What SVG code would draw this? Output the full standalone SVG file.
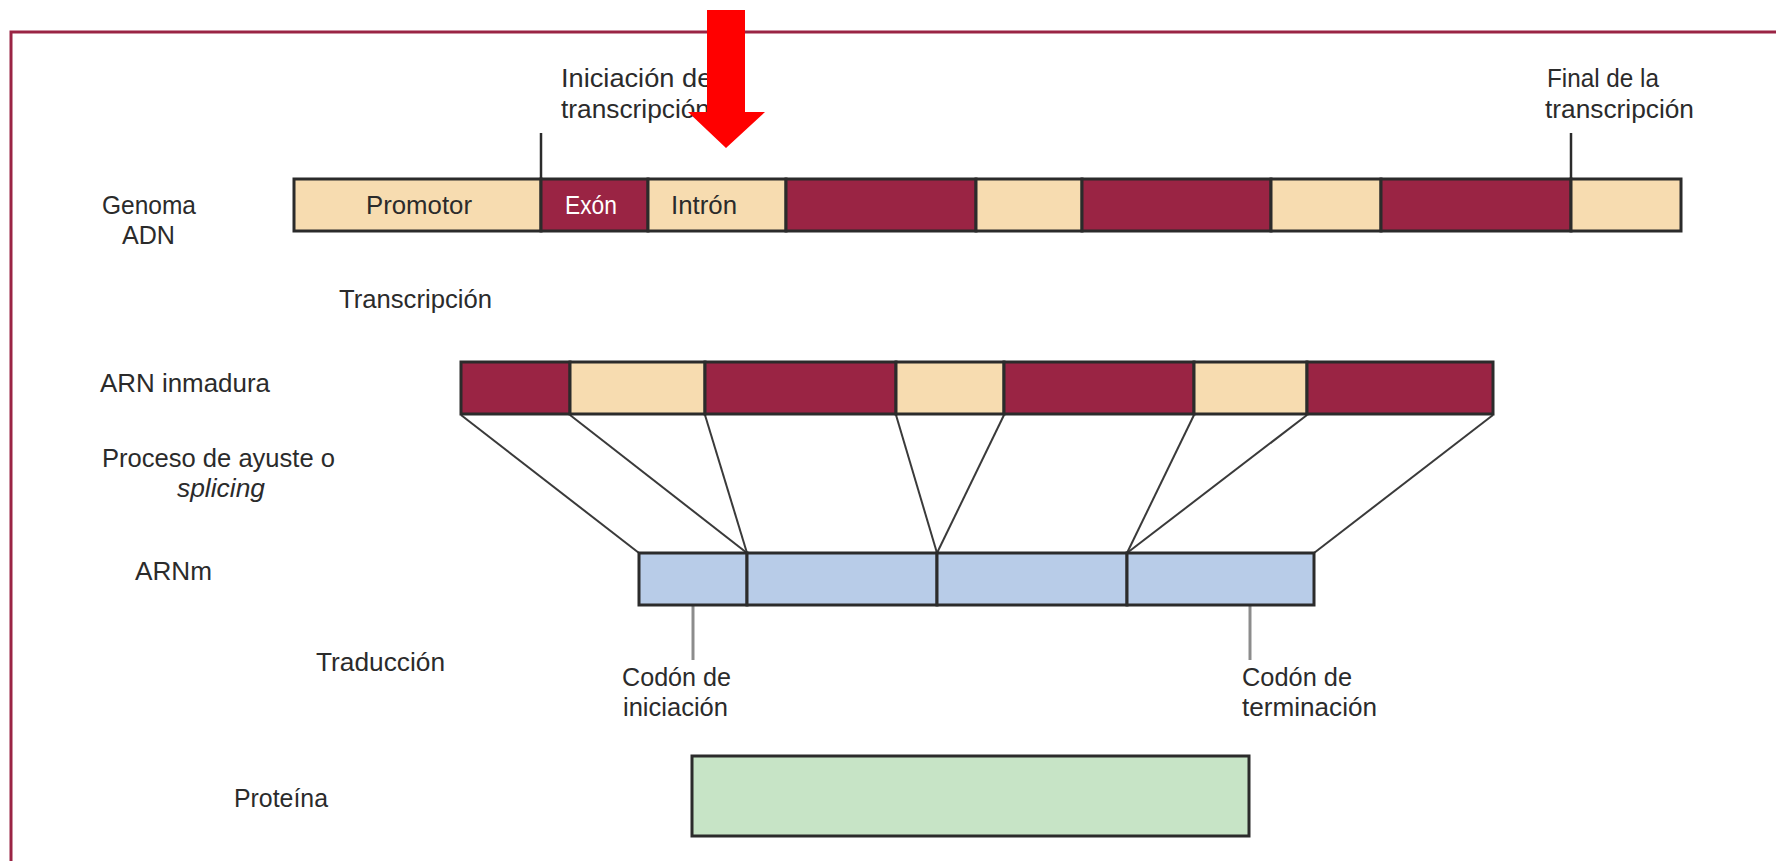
<svg xmlns="http://www.w3.org/2000/svg" width="1776" height="861" viewBox="0 0 1776 861">
<style>
text{font-family:"Liberation Sans",Arial,sans-serif;font-size:26px;fill:#2b2b2b}
.w{fill:#ffffff}
.seg{stroke:#2b2b2b;stroke-width:3}
.ex{fill:#9a2444}
.in{fill:#f7dcb0}
.mr{fill:#b8cce8}
.pr{fill:#c7e4c6}
.ln{stroke:#3a3a3a;stroke-width:2;fill:none}
.tk{stroke:#2b2b2b;stroke-width:2.5}
.gt{stroke:#8c8c8c;stroke-width:3}
</style>
<rect width="1776" height="861" fill="#ffffff"/>
<rect x="11" y="32" width="1800" height="900" fill="none" stroke="#9a2444" stroke-width="3"/>

<g id="connectors">
<line class="tk" x1="541" y1="133" x2="541" y2="178"/>
<line class="tk" x1="1571" y1="133" x2="1571" y2="178"/>
<line class="ln" x1="461" y1="415" x2="639" y2="553"/>
<line class="ln" x1="570" y1="415" x2="747" y2="553"/>
<line class="ln" x1="705" y1="415" x2="747" y2="553"/>
<line class="ln" x1="896" y1="415" x2="937" y2="553"/>
<line class="ln" x1="1004" y1="415" x2="937" y2="553"/>
<line class="ln" x1="1194" y1="415" x2="1127" y2="553"/>
<line class="ln" x1="1307" y1="415" x2="1127" y2="553"/>
<line class="ln" x1="1493" y1="415" x2="1314" y2="553"/>
<line class="gt" x1="693" y1="606" x2="693" y2="660"/>
<line class="gt" x1="1250" y1="606" x2="1250" y2="660"/>
</g>

<g id="labels-left">
<text x="102" y="214" textLength="94" lengthAdjust="spacingAndGlyphs">Genoma</text>
<text x="122" y="244" textLength="53" lengthAdjust="spacingAndGlyphs">ADN</text>
<text x="339" y="308" textLength="153" lengthAdjust="spacingAndGlyphs">Transcripción</text>
<text x="100" y="392" textLength="170" lengthAdjust="spacingAndGlyphs">ARN inmadura</text>
<text x="102" y="467" textLength="233" lengthAdjust="spacingAndGlyphs">Proceso de ayuste o</text>
<text x="177" y="497" textLength="88" lengthAdjust="spacingAndGlyphs" font-style="italic">splicing</text>
<text x="135" y="580" textLength="77" lengthAdjust="spacingAndGlyphs">ARNm</text>
<text x="316" y="671" textLength="129" lengthAdjust="spacingAndGlyphs">Traducción</text>
<text x="234" y="807" textLength="94" lengthAdjust="spacingAndGlyphs">Proteína</text>
</g>

<g id="inicio-transcripcion">
<text x="561" y="87" textLength="180" lengthAdjust="spacingAndGlyphs">Iniciación de la</text>
<text x="561" y="118" textLength="149" lengthAdjust="spacingAndGlyphs">transcripción</text>
</g>
<g id="final-transcripcion">
<text x="1547" y="87" textLength="112" lengthAdjust="spacingAndGlyphs">Final de la</text>
<text x="1545" y="118" textLength="149" lengthAdjust="spacingAndGlyphs">transcripción</text>
</g>

<g id="genoma-adn">
<rect class="seg in" x="294" y="179" width="247" height="52"/>
<rect class="seg ex" x="541" y="179" width="107" height="52"/>
<rect class="seg in" x="648" y="179" width="138" height="52"/>
<rect class="seg ex" x="786" y="179" width="190" height="52"/>
<rect class="seg in" x="976" y="179" width="106" height="52"/>
<rect class="seg ex" x="1082" y="179" width="189" height="52"/>
<rect class="seg in" x="1271" y="179" width="110" height="52"/>
<rect class="seg ex" x="1381" y="179" width="190" height="52"/>
<rect class="seg in" x="1571" y="179" width="110" height="52"/>
<text x="366" y="214" textLength="106" lengthAdjust="spacingAndGlyphs">Promotor</text>
<text class="w" x="565" y="214" textLength="52" lengthAdjust="spacingAndGlyphs">Exón</text>
<text x="671" y="214" textLength="66" lengthAdjust="spacingAndGlyphs">Intrón</text>
</g>

<g id="arn-inmaduro">
<rect class="seg ex" x="461" y="362" width="109" height="52"/>
<rect class="seg in" x="570" y="362" width="135" height="52"/>
<rect class="seg ex" x="705" y="362" width="191" height="52"/>
<rect class="seg in" x="896" y="362" width="108" height="52"/>
<rect class="seg ex" x="1004" y="362" width="190" height="52"/>
<rect class="seg in" x="1194" y="362" width="113" height="52"/>
<rect class="seg ex" x="1307" y="362" width="186" height="52"/>
</g>

<g id="arnm">
<rect class="seg mr" x="639" y="553" width="108" height="52"/>
<rect class="seg mr" x="747" y="553" width="190" height="52"/>
<rect class="seg mr" x="937" y="553" width="190" height="52"/>
<rect class="seg mr" x="1127" y="553" width="187" height="52"/>
</g>

<g id="codon-iniciacion">
<text x="622" y="686" textLength="109" lengthAdjust="spacingAndGlyphs">Codón de</text>
<text x="623" y="716" textLength="105" lengthAdjust="spacingAndGlyphs">iniciación</text>
</g>
<g id="codon-terminacion">
<text x="1242" y="686" textLength="110" lengthAdjust="spacingAndGlyphs">Codón de</text>
<text x="1242" y="716" textLength="135" lengthAdjust="spacingAndGlyphs">terminación</text>
</g>

<g id="proteina">
<rect class="seg pr" x="692" y="756" width="557" height="80"/>
</g>

<g id="flecha">
<polygon points="707,10 745,10 745,112 765,112 726,148 688,112 707,112" fill="#ff0000"/>
</g>
</svg>
